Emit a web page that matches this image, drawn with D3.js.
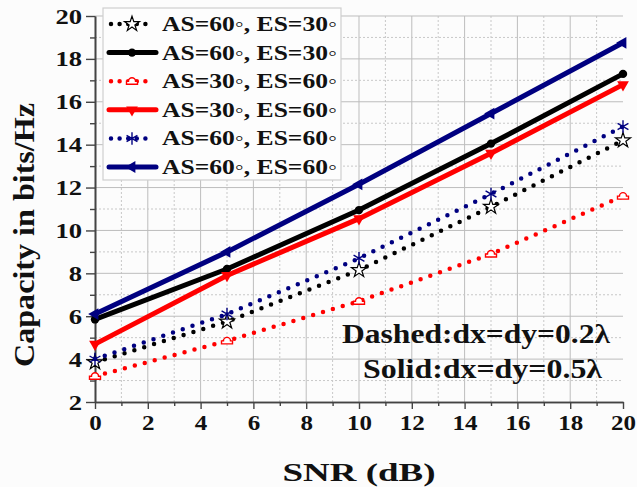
<!DOCTYPE html>
<html>
<head>
<meta charset="utf-8">
<script src="https://cdn.jsdelivr.net/npm/d3@7"></script>
<style>
  html, body { margin: 0; padding: 0; background: #fcfcfc; }
  svg { display: block; }
  text { font-family: "Liberation Serif", "Times New Roman", serif; font-weight: bold; fill: #111; }
</style>
</head>
<body>
<div id="chart"></div>
<script>
// data (SNR in dB, capacity in bits/Hz)
const snr = [0, 5, 10, 15, 20];
const as60es30Dashed = [3.85, 5.75, 8.15, 11.1, 14.2];
const as60es30Solid = [5.85, 8.2, 10.95, 14.05, 17.3];
const as30es60Dashed = [3.2, 4.85, 6.7, 8.9, 11.6];
const as30es60Solid = [4.7, 7.9, 10.55, 13.6, 16.8];
const as60es60Dashed = [4.0, 6.1, 8.7, 11.7, 14.85];
const as60es60Solid = [6.1, 9.0, 12.15, 15.45, 18.75];
const legendLabels = ["AS=60\u25E6, ES=30\u25E6", "AS=60\u25E6, ES=30\u25E6", "AS=30\u25E6, ES=60\u25E6",
                      "AS=30\u25E6, ES=60\u25E6", "AS=60\u25E6, ES=60\u25E6", "AS=60\u25E6, ES=60\u25E6"];
const xTicks = [0, 2, 4, 6, 8, 10, 12, 14, 16, 18, 20];
const yTicks = [2, 4, 6, 8, 10, 12, 14, 16, 18, 20];

const w = 637, h = 487;
const padLeft = 95, padRight = 623, padTop = 16, padBottom = 402;

const series = [
    {values: as60es30Dashed, color: "#000", dashed: true, marker: "star"},
    {values: as60es30Solid, color: "#000", dashed: false, marker: "circle"},
    {values: as30es60Dashed, color: "#ff0000", dashed: true, marker: "hat"},
    {values: as30es60Solid, color: "#ff0000", dashed: false, marker: "down"},
    {values: as60es60Dashed, color: "#000080", dashed: true, marker: "asterisk"},
    {values: as60es60Solid, color: "#000080", dashed: false, marker: "leftTri"}
];
series.forEach((s, i) => s.label = legendLabels[i]);

const xScale = d3.scaleLinear().domain([0, 20]).range([padLeft, padRight]);
const yScale = d3.scaleLinear().domain([2, 20]).range([padBottom, padTop]);

const svg = d3.select("#chart").append("svg")
    .attr("width", w)
    .attr("height", h);

// grid: solid on even values, dotted on odd
const xMinor = d3.range(1, 20, 2), yMinor = d3.range(3, 20, 2);
const grid = svg.append("g").attr("class", "grid");
grid.selectAll(".vmaj").data(xTicks.filter(d => d > 0 && d < 20)).enter().append("line")
    .attr("x1", d => xScale(d)).attr("x2", d => xScale(d))
    .attr("y1", padBottom).attr("y2", padTop)
    .attr("stroke", "#bdbdbd").attr("stroke-width", 1);
grid.selectAll(".vmin").data(xMinor).enter().append("line")
    .attr("x1", d => xScale(d)).attr("x2", d => xScale(d))
    .attr("y1", padBottom).attr("y2", padTop)
    .attr("stroke", "#c8c8c8").attr("stroke-width", 1).attr("stroke-dasharray", "2,2");
grid.selectAll(".hmaj").data(yTicks.filter(d => d > 2)).enter().append("line")
    .attr("x1", padLeft).attr("x2", padRight)
    .attr("y1", d => yScale(d)).attr("y2", d => yScale(d))
    .attr("stroke", "#bdbdbd").attr("stroke-width", 1);
grid.selectAll(".hmin").data(yMinor).enter().append("line")
    .attr("x1", padLeft).attr("x2", padRight)
    .attr("y1", d => yScale(d)).attr("y2", d => yScale(d))
    .attr("stroke", "#c8c8c8").attr("stroke-width", 1).attr("stroke-dasharray", "2,2");

// axes
const xAxis = svg.append("g").attr("transform", `translate(0, ${padBottom})`)
    .call(d3.axisBottom(xScale).tickValues(xTicks).tickSize(7).tickSizeOuter(0).tickPadding(5).tickFormat(d3.format("d")));
svg.append("g").attr("transform", `translate(0, ${padBottom})`)
    .call(d3.axisBottom(xScale).tickValues(xMinor).tickSize(4).tickSizeOuter(0).tickFormat(""));
const yAxis = svg.append("g").attr("transform", `translate(${padLeft}, 0)`)
    .call(d3.axisLeft(yScale).tickValues(yTicks).tickSize(9).tickSizeOuter(0).tickPadding(4).tickFormat(d3.format("d")));
svg.append("g").attr("transform", `translate(${padLeft}, 0)`)
    .call(d3.axisLeft(yScale).tickValues(yMinor).tickSize(5).tickSizeOuter(0).tickFormat(""));

svg.selectAll(".domain").attr("stroke", "#444").attr("stroke-width", 1.6);
svg.selectAll(".tick line").attr("stroke", "#444").attr("stroke-width", 1.4);
xAxis.selectAll("text").attr("font-size", 22).attr("fill", "#111")
    .attr("textLength", d => String(d).length * 12.5)
    .attr("lengthAdjust", "spacingAndGlyphs");
yAxis.selectAll("text").attr("font-size", 20).attr("fill", "#111")
    .attr("dy", "0.35em")
    .attr("textLength", d => String(d).length * 13.3)
    .attr("lengthAdjust", "spacingAndGlyphs");

// axis titles
svg.append("text")
    .attr("x", (padLeft + padRight) / 2).attr("y", 481)
    .attr("text-anchor", "middle")
    .attr("font-size", 25)
    .attr("textLength", 153).attr("lengthAdjust", "spacingAndGlyphs")
    .text("SNR  (dB)");
svg.append("text")
    .attr("transform", "translate(34, 235) rotate(-90)")
    .attr("text-anchor", "middle")
    .attr("font-size", 30)
    .attr("textLength", 264).attr("lengthAdjust", "spacingAndGlyphs")
    .text("Capacity in bits/Hz");

// marker drawing
function marker(g, type, color) {
    if (type === "star") {
        g.append("path").attr("d", d3.symbol().type(d3.symbolStar).size(70)())
            .attr("fill", "#fff").attr("stroke", color).attr("stroke-width", 1.2);
    } else if (type === "circle") {
        g.append("path").attr("d", d3.symbol().type(d3.symbolCircle).size(55)())
            .attr("fill", color);
    } else if (type === "hat") {
        g.append("path").attr("d", "M-5.5,3 L5.5,3 L5.5,0 L3.5,0 A3.5,3.5 0 0 0 -3.5,0 L-5.5,0 Z")
            .attr("fill", "#fff").attr("stroke", color).attr("stroke-width", 1.4);
    } else if (type === "down") {
        g.append("path").attr("d", d3.symbol().type(d3.symbolTriangle).size(60)())
            .attr("transform", "rotate(180)").attr("fill", color);
    } else if (type === "asterisk") {
        g.append("path").attr("d", d3.symbol().type(d3.symbolAsterisk).size(110)())
            .attr("fill", "none").attr("stroke", color).attr("stroke-width", 1.4);
    } else if (type === "leftTri") {
        g.append("path").attr("d", d3.symbol().type(d3.symbolTriangle).size(60)())
            .attr("transform", "rotate(-90)").attr("fill", color);
    }
}

// lines
const line = d3.line().x((d, i) => xScale(snr[i])).y(d => yScale(d));
series.forEach(s => {
    const g = svg.append("g");
    g.append("path")
        .datum(s.values)
        .attr("d", line)
        .attr("fill", "none")
        .attr("stroke", s.color)
        .attr("stroke-width", s.dashed ? 4.5 : 5)
        .attr("stroke-linecap", "round")
        .attr("stroke-dasharray", s.dashed ? "0,10.3" : null);
    s.values.forEach((v, i) => {
        const m = g.append("g").attr("transform", `translate(${xScale(snr[i])}, ${yScale(v)})`);
        marker(m, s.marker, s.color);
    });
});

// legend
const legend = svg.append("g");
legend.append("rect")
    .attr("x", 103).attr("y", 8).attr("width", 238).attr("height", 172)
    .attr("fill", "#fdfdfd").attr("stroke", "#cfcfcf").attr("stroke-width", 1.2);
const rowY = d3.scaleLinear().domain([0, 5]).range([24, 167]);
series.forEach((s, i) => {
    const y0 = rowY(i);
    legend.append("line")
        .attr("x1", s.dashed ? 111 : 109).attr("x2", s.dashed ? 154 : 156)
        .attr("y1", y0).attr("y2", y0)
        .attr("stroke", s.color)
        .attr("stroke-width", s.dashed ? 4.5 : 5)
        .attr("stroke-linecap", "round")
        .attr("stroke-dasharray", s.dashed ? "0,8.6" : null);
    marker(legend.append("g").attr("transform", `translate(132, ${y0})`), s.marker, s.color);
    legend.append("text")
        .attr("x", 162).attr("y", y0 + 7)
        .attr("font-size", 21)
        .attr("textLength", 175).attr("lengthAdjust", "spacingAndGlyphs")
        .text(s.label);
});

// annotation
svg.append("text")
    .attr("x", 342).attr("y", 343)
    .attr("font-size", 27)
    .attr("textLength", 268).attr("lengthAdjust", "spacingAndGlyphs")
    .text("Dashed:dx=dy=0.2\u03BB");
svg.append("text")
    .attr("x", 363).attr("y", 378)
    .attr("font-size", 27)
    .attr("textLength", 239).attr("lengthAdjust", "spacingAndGlyphs")
    .text("Solid:dx=dy=0.5\u03BB");
</script>
</body>
</html>
